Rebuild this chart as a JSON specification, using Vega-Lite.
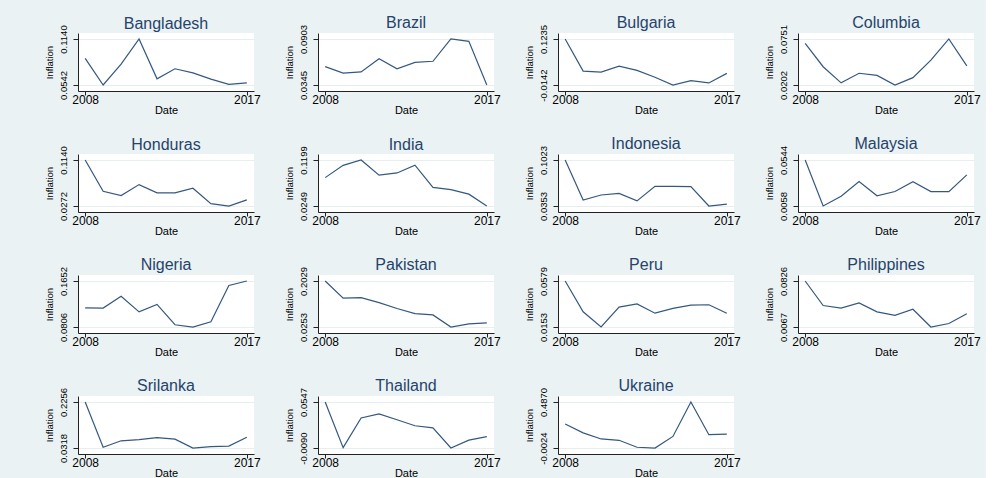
{
  "$schema": "https://vega.github.io/schema/vega-lite/v6.json",
  "background": "#EAF2F3",
  "padding": {"left": 44, "top": 15, "right": 5, "bottom": 0},
  "datasets": {
    "infl": [
      {"country":"Bangladesh","year":2008,"inflation":0.0889},{"country":"Bangladesh","year":2009,"inflation":0.0542},{"country":"Bangladesh","year":2010,"inflation":0.0813},{"country":"Bangladesh","year":2011,"inflation":0.1140},{"country":"Bangladesh","year":2012,"inflation":0.0622},{"country":"Bangladesh","year":2013,"inflation":0.0753},{"country":"Bangladesh","year":2014,"inflation":0.0699},{"country":"Bangladesh","year":2015,"inflation":0.0619},{"country":"Bangladesh","year":2016,"inflation":0.0551},{"country":"Bangladesh","year":2017,"inflation":0.0570},
      {"country":"Brazil","year":2008,"inflation":0.0568},{"country":"Brazil","year":2009,"inflation":0.0489},{"country":"Brazil","year":2010,"inflation":0.0504},{"country":"Brazil","year":2011,"inflation":0.0664},{"country":"Brazil","year":2012,"inflation":0.0541},{"country":"Brazil","year":2013,"inflation":0.0620},{"country":"Brazil","year":2014,"inflation":0.0633},{"country":"Brazil","year":2015,"inflation":0.0903},{"country":"Brazil","year":2016,"inflation":0.0874},{"country":"Brazil","year":2017,"inflation":0.0345},
      {"country":"Bulgaria","year":2008,"inflation":0.1235},{"country":"Bulgaria","year":2009,"inflation":0.0275},{"country":"Bulgaria","year":2010,"inflation":0.0244},{"country":"Bulgaria","year":2011,"inflation":0.0422},{"country":"Bulgaria","year":2012,"inflation":0.0295},{"country":"Bulgaria","year":2013,"inflation":0.0089},{"country":"Bulgaria","year":2014,"inflation":-0.0142},{"country":"Bulgaria","year":2015,"inflation":-0.0010},{"country":"Bulgaria","year":2016,"inflation":-0.0080},{"country":"Bulgaria","year":2017,"inflation":0.0206},
      {"country":"Columbia","year":2008,"inflation":0.0700},{"country":"Columbia","year":2009,"inflation":0.0420},{"country":"Columbia","year":2010,"inflation":0.0228},{"country":"Columbia","year":2011,"inflation":0.0342},{"country":"Columbia","year":2012,"inflation":0.0317},{"country":"Columbia","year":2013,"inflation":0.0202},{"country":"Columbia","year":2014,"inflation":0.0290},{"country":"Columbia","year":2015,"inflation":0.0499},{"country":"Columbia","year":2016,"inflation":0.0751},{"country":"Columbia","year":2017,"inflation":0.0431},
      {"country":"Honduras","year":2008,"inflation":0.1140},{"country":"Honduras","year":2009,"inflation":0.0550},{"country":"Honduras","year":2010,"inflation":0.0470},{"country":"Honduras","year":2011,"inflation":0.0676},{"country":"Honduras","year":2012,"inflation":0.0519},{"country":"Honduras","year":2013,"inflation":0.0520},{"country":"Honduras","year":2014,"inflation":0.0608},{"country":"Honduras","year":2015,"inflation":0.0316},{"country":"Honduras","year":2016,"inflation":0.0272},{"country":"Honduras","year":2017,"inflation":0.0389},
      {"country":"India","year":2008,"inflation":0.0835},{"country":"India","year":2009,"inflation":0.1088},{"country":"India","year":2010,"inflation":0.1199},{"country":"India","year":2011,"inflation":0.0886},{"country":"India","year":2012,"inflation":0.0931},{"country":"India","year":2013,"inflation":0.1091},{"country":"India","year":2014,"inflation":0.0635},{"country":"India","year":2015,"inflation":0.0587},{"country":"India","year":2016,"inflation":0.0494},{"country":"India","year":2017,"inflation":0.0249},
      {"country":"Indonesia","year":2008,"inflation":0.1023},{"country":"Indonesia","year":2009,"inflation":0.0439},{"country":"Indonesia","year":2010,"inflation":0.0513},{"country":"Indonesia","year":2011,"inflation":0.0536},{"country":"Indonesia","year":2012,"inflation":0.0428},{"country":"Indonesia","year":2013,"inflation":0.0641},{"country":"Indonesia","year":2014,"inflation":0.0639},{"country":"Indonesia","year":2015,"inflation":0.0636},{"country":"Indonesia","year":2016,"inflation":0.0353},{"country":"Indonesia","year":2017,"inflation":0.0381},
      {"country":"Malaysia","year":2008,"inflation":0.0544},{"country":"Malaysia","year":2009,"inflation":0.0058},{"country":"Malaysia","year":2010,"inflation":0.0162},{"country":"Malaysia","year":2011,"inflation":0.0317},{"country":"Malaysia","year":2012,"inflation":0.0166},{"country":"Malaysia","year":2013,"inflation":0.0211},{"country":"Malaysia","year":2014,"inflation":0.0314},{"country":"Malaysia","year":2015,"inflation":0.0210},{"country":"Malaysia","year":2016,"inflation":0.0209},{"country":"Malaysia","year":2017,"inflation":0.0387},
      {"country":"Nigeria","year":2008,"inflation":0.1158},{"country":"Nigeria","year":2009,"inflation":0.1154},{"country":"Nigeria","year":2010,"inflation":0.1372},{"country":"Nigeria","year":2011,"inflation":0.1084},{"country":"Nigeria","year":2012,"inflation":0.1222},{"country":"Nigeria","year":2013,"inflation":0.0848},{"country":"Nigeria","year":2014,"inflation":0.0806},{"country":"Nigeria","year":2015,"inflation":0.0901},{"country":"Nigeria","year":2016,"inflation":0.1570},{"country":"Nigeria","year":2017,"inflation":0.1652},
      {"country":"Pakistan","year":2008,"inflation":0.2029},{"country":"Pakistan","year":2009,"inflation":0.1365},{"country":"Pakistan","year":2010,"inflation":0.1388},{"country":"Pakistan","year":2011,"inflation":0.1192},{"country":"Pakistan","year":2012,"inflation":0.0969},{"country":"Pakistan","year":2013,"inflation":0.0769},{"country":"Pakistan","year":2014,"inflation":0.0719},{"country":"Pakistan","year":2015,"inflation":0.0253},{"country":"Pakistan","year":2016,"inflation":0.0377},{"country":"Pakistan","year":2017,"inflation":0.0409},
      {"country":"Peru","year":2008,"inflation":0.0579},{"country":"Peru","year":2009,"inflation":0.0294},{"country":"Peru","year":2010,"inflation":0.0153},{"country":"Peru","year":2011,"inflation":0.0337},{"country":"Peru","year":2012,"inflation":0.0366},{"country":"Peru","year":2013,"inflation":0.0281},{"country":"Peru","year":2014,"inflation":0.0325},{"country":"Peru","year":2015,"inflation":0.0355},{"country":"Peru","year":2016,"inflation":0.0359},{"country":"Peru","year":2017,"inflation":0.0280},
      {"country":"Philippines","year":2008,"inflation":0.0826},{"country":"Philippines","year":2009,"inflation":0.0422},{"country":"Philippines","year":2010,"inflation":0.0379},{"country":"Philippines","year":2011,"inflation":0.0465},{"country":"Philippines","year":2012,"inflation":0.0317},{"country":"Philippines","year":2013,"inflation":0.0258},{"country":"Philippines","year":2014,"inflation":0.0360},{"country":"Philippines","year":2015,"inflation":0.0067},{"country":"Philippines","year":2016,"inflation":0.0125},{"country":"Philippines","year":2017,"inflation":0.0285},
      {"country":"Srilanka","year":2008,"inflation":0.2256},{"country":"Srilanka","year":2009,"inflation":0.0347},{"country":"Srilanka","year":2010,"inflation":0.0622},{"country":"Srilanka","year":2011,"inflation":0.0672},{"country":"Srilanka","year":2012,"inflation":0.0754},{"country":"Srilanka","year":2013,"inflation":0.0691},{"country":"Srilanka","year":2014,"inflation":0.0318},{"country":"Srilanka","year":2015,"inflation":0.0377},{"country":"Srilanka","year":2016,"inflation":0.0396},{"country":"Srilanka","year":2017,"inflation":0.0770},
      {"country":"Thailand","year":2008,"inflation":0.0547},{"country":"Thailand","year":2009,"inflation":-0.0085},{"country":"Thailand","year":2010,"inflation":0.0325},{"country":"Thailand","year":2011,"inflation":0.0381},{"country":"Thailand","year":2012,"inflation":0.0301},{"country":"Thailand","year":2013,"inflation":0.0218},{"country":"Thailand","year":2014,"inflation":0.0189},{"country":"Thailand","year":2015,"inflation":-0.0090},{"country":"Thailand","year":2016,"inflation":0.0019},{"country":"Thailand","year":2017,"inflation":0.0067},
      {"country":"Ukraine","year":2008,"inflation":0.2523},{"country":"Ukraine","year":2009,"inflation":0.1590},{"country":"Ukraine","year":2010,"inflation":0.0938},{"country":"Ukraine","year":2011,"inflation":0.0796},{"country":"Ukraine","year":2012,"inflation":0.0056},{"country":"Ukraine","year":2013,"inflation":-0.0024},{"country":"Ukraine","year":2014,"inflation":0.1207},{"country":"Ukraine","year":2015,"inflation":0.4870},{"country":"Ukraine","year":2016,"inflation":0.1391},{"country":"Ukraine","year":2017,"inflation":0.1444}
    ]
  },
  "data": {"name": "infl"},
  "columns": 4,
  "spacing": {"row": 21, "column": 23},
  "concat": [
    {"title":"Bangladesh","width":176,"height":58,"transform":[{"filter":"datum.country == 'Bangladesh'"}],"mark":"line","encoding":{"x":{"field":"year","type":"quantitative","scale":{"domain":[2007.6,2017.4]},"axis":{"values":[2008,2017],"format":"d","title":"Date"}},"y":{"field":"inflation","type":"quantitative","scale":{"domain":[0.04642,0.12178],"zero":false,"nice":false},"axis":{"values":[0.0542,0.1140],"title":"Inflation"}}}},
    {"title":"Brazil","width":176,"height":58,"transform":[{"filter":"datum.country == 'Brazil'"}],"mark":"line","encoding":{"x":{"field":"year","type":"quantitative","scale":{"domain":[2007.6,2017.4]},"axis":{"values":[2008,2017],"format":"d","title":"Date"}},"y":{"field":"inflation","type":"quantitative","scale":{"domain":[0.02725,0.09755],"zero":false,"nice":false},"axis":{"values":[0.0345,0.0903],"title":"Inflation"}}}},
    {"title":"Bulgaria","width":176,"height":58,"transform":[{"filter":"datum.country == 'Bulgaria'"}],"mark":"line","encoding":{"x":{"field":"year","type":"quantitative","scale":{"domain":[2007.6,2017.4]},"axis":{"values":[2008,2017],"format":"d","title":"Date"}},"y":{"field":"inflation","type":"quantitative","scale":{"domain":[-0.0321,0.1414],"zero":false,"nice":false},"axis":{"values":[-0.0142,0.1235],"title":"Inflation"}}}},
    {"title":"Columbia","width":176,"height":58,"transform":[{"filter":"datum.country == 'Columbia'"}],"mark":"line","encoding":{"x":{"field":"year","type":"quantitative","scale":{"domain":[2007.6,2017.4]},"axis":{"values":[2008,2017],"format":"d","title":"Date"}},"y":{"field":"inflation","type":"quantitative","scale":{"domain":[0.01306,0.08224],"zero":false,"nice":false},"axis":{"values":[0.0202,0.0751],"title":"Inflation"}}}},
    {"title":"Honduras","width":176,"height":58,"transform":[{"filter":"datum.country == 'Honduras'"}],"mark":"line","encoding":{"x":{"field":"year","type":"quantitative","scale":{"domain":[2007.6,2017.4]},"axis":{"values":[2008,2017],"format":"d","title":"Date"}},"y":{"field":"inflation","type":"quantitative","scale":{"domain":[0.01592,0.12528],"zero":false,"nice":false},"axis":{"values":[0.0272,0.1140],"title":"Inflation"}}}},
    {"title":"India","width":176,"height":58,"transform":[{"filter":"datum.country == 'India'"}],"mark":"line","encoding":{"x":{"field":"year","type":"quantitative","scale":{"domain":[2007.6,2017.4]},"axis":{"values":[2008,2017],"format":"d","title":"Date"}},"y":{"field":"inflation","type":"quantitative","scale":{"domain":[0.01255,0.13225],"zero":false,"nice":false},"axis":{"values":[0.0249,0.1199],"title":"Inflation"}}}},
    {"title":"Indonesia","width":176,"height":58,"transform":[{"filter":"datum.country == 'Indonesia'"}],"mark":"line","encoding":{"x":{"field":"year","type":"quantitative","scale":{"domain":[2007.6,2017.4]},"axis":{"values":[2008,2017],"format":"d","title":"Date"}},"y":{"field":"inflation","type":"quantitative","scale":{"domain":[0.02659,0.11101],"zero":false,"nice":false},"axis":{"values":[0.0353,0.1023],"title":"Inflation"}}}},
    {"title":"Malaysia","width":176,"height":58,"transform":[{"filter":"datum.country == 'Malaysia'"}],"mark":"line","encoding":{"x":{"field":"year","type":"quantitative","scale":{"domain":[2007.6,2017.4]},"axis":{"values":[2008,2017],"format":"d","title":"Date"}},"y":{"field":"inflation","type":"quantitative","scale":{"domain":[-0.00052,0.06072],"zero":false,"nice":false},"axis":{"values":[0.0058,0.0544],"title":"Inflation"}}}},
    {"title":"Nigeria","width":176,"height":58,"transform":[{"filter":"datum.country == 'Nigeria'"}],"mark":"line","encoding":{"x":{"field":"year","type":"quantitative","scale":{"domain":[2007.6,2017.4]},"axis":{"values":[2008,2017],"format":"d","title":"Date"}},"y":{"field":"inflation","type":"quantitative","scale":{"domain":[0.0696,0.1762],"zero":false,"nice":false},"axis":{"values":[0.0806,0.1652],"title":"Inflation"}}}},
    {"title":"Pakistan","width":176,"height":58,"transform":[{"filter":"datum.country == 'Pakistan'"}],"mark":"line","encoding":{"x":{"field":"year","type":"quantitative","scale":{"domain":[2007.6,2017.4]},"axis":{"values":[2008,2017],"format":"d","title":"Date"}},"y":{"field":"inflation","type":"quantitative","scale":{"domain":[0.00221,0.22599],"zero":false,"nice":false},"axis":{"values":[0.0253,0.2029],"title":"Inflation"}}}},
    {"title":"Peru","width":176,"height":58,"transform":[{"filter":"datum.country == 'Peru'"}],"mark":"line","encoding":{"x":{"field":"year","type":"quantitative","scale":{"domain":[2007.6,2017.4]},"axis":{"values":[2008,2017],"format":"d","title":"Date"}},"y":{"field":"inflation","type":"quantitative","scale":{"domain":[0.00976,0.06344],"zero":false,"nice":false},"axis":{"values":[0.0153,0.0579],"title":"Inflation"}}}},
    {"title":"Philippines","width":176,"height":58,"transform":[{"filter":"datum.country == 'Philippines'"}],"mark":"line","encoding":{"x":{"field":"year","type":"quantitative","scale":{"domain":[2007.6,2017.4]},"axis":{"values":[2008,2017],"format":"d","title":"Date"}},"y":{"field":"inflation","type":"quantitative","scale":{"domain":[-0.00317,0.09247],"zero":false,"nice":false},"axis":{"values":[0.0067,0.0826],"title":"Inflation"}}}},
    {"title":"Srilanka","width":176,"height":58,"transform":[{"filter":"datum.country == 'Srilanka'"}],"mark":"line","encoding":{"x":{"field":"year","type":"quantitative","scale":{"domain":[2007.6,2017.4]},"axis":{"values":[2008,2017],"format":"d","title":"Date"}},"y":{"field":"inflation","type":"quantitative","scale":{"domain":[0.0066,0.2508],"zero":false,"nice":false},"axis":{"values":[0.0318,0.2256],"title":"Inflation"}}}},
    {"title":"Thailand","width":176,"height":58,"transform":[{"filter":"datum.country == 'Thailand'"}],"mark":"line","encoding":{"x":{"field":"year","type":"quantitative","scale":{"domain":[2007.6,2017.4]},"axis":{"values":[2008,2017],"format":"d","title":"Date"}},"y":{"field":"inflation","type":"quantitative","scale":{"domain":[-0.01728,0.06298],"zero":false,"nice":false},"axis":{"values":[-0.0090,0.0547],"title":"Inflation"}}}},
    {"title":"Ukraine","width":176,"height":58,"transform":[{"filter":"datum.country == 'Ukraine'"}],"mark":"line","encoding":{"x":{"field":"year","type":"quantitative","scale":{"domain":[2007.6,2017.4]},"axis":{"values":[2008,2017],"format":"d","title":"Date"}},"y":{"field":"inflation","type":"quantitative","scale":{"domain":[-0.066,0.5506],"zero":false,"nice":false},"axis":{"values":[-0.0024,0.4870],"title":"Inflation"}}}}
  ],
  "config": {
    "font": "Liberation Sans",
    "view": {"stroke": null, "fill": "white"},
    "line": {"color": "#34587f", "strokeWidth": 1.2},
    "title": {"fontSize": 16, "fontWeight": "normal", "color": "#25436b", "offset": -7, "frame": "group", "anchor": "middle", "font": "Liberation Sans"},
    "axis": {"labelFont": "Liberation Sans", "titleFont": "Liberation Sans", "labelColor": "#000", "titleColor": "#000", "domainColor": "#222", "tickColor": "#222", "gridColor": "#E6EEF0", "titleFontWeight": "normal", "labelFlush": false, "tickSize": 5, "labelOverlap": false},
    "axisX": {"grid": false, "tickSize": 4, "labelFontSize": 12, "titleFontSize": 11, "titlePadding": -1, "labelPadding": -1},
    "axisY": {"labelFontSize": 9.5, "titleFontSize": 9.5, "labelAngle": 270, "labelPadding": 5, "titlePadding": 4, "labelExpr": "replace(format(datum.value, '.4f'), '\u2212', '-')"}
  }
}
